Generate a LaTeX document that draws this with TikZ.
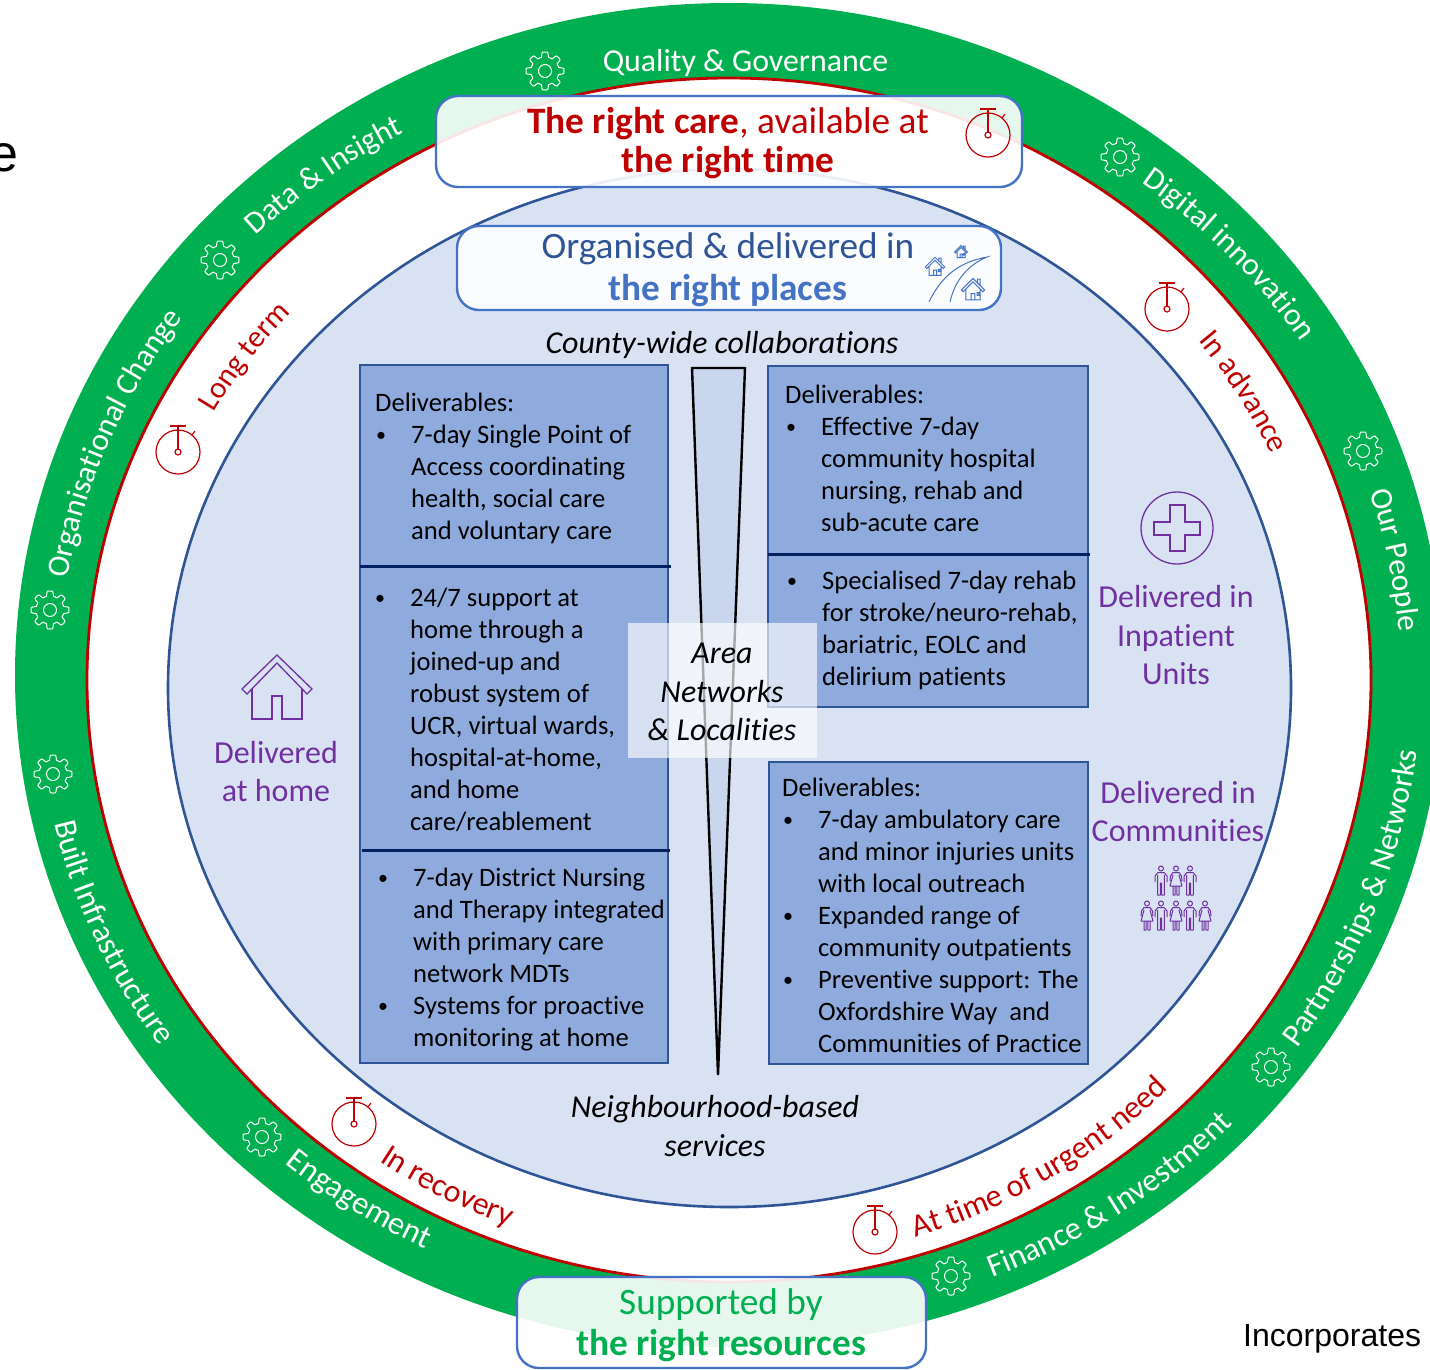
\documentclass[tikz,border=0pt]{standalone}
\usepackage{fontspec}
\setmainfont[Ligatures=NoCommon]{Carlito}
\newfontfamily\arialf{Liberation Sans}
\usetikzlibrary{decorations.text}
\definecolor{ringgreen}{HTML}{00B050}
\definecolor{ringred}{HTML}{C00000}
\definecolor{discfill}{HTML}{D9E2F3}
\definecolor{discline}{HTML}{2F5597}
\definecolor{boxfill}{HTML}{8FAADC}
\definecolor{capline}{HTML}{4472C4}
\definecolor{divline}{HTML}{002060}
\definecolor{purp}{HTML}{7030A0}
\definecolor{funnelfill}{HTML}{C9D6EE}
\newcommand{\fs}[2]{\fontsize{#1}{#2}\selectfont}
\newcommand{\bu}{\makebox[36pt][l]{\hspace{1pt}\raisebox{1.5pt}{\fs{20}{20}•}}}
\newcommand{\ind}{\hspace*{36pt}}
\newcommand{\arclabel}[6]{%
  \path[decorate,decoration={text along path,text align=center,
    text={|\fs{#6}{#6}\color{#5}|#4}}]
    plot[domain=#1-35:#1+35,samples=70] ({729+#2*cos(\x)},{680+#3*sin(\x)});}
\newcommand{\arclabelrev}[6]{%
  \path[decorate,decoration={text along path,text align=center,
    text={|\fs{#6}{#6}\color{#5}|#4}}]
    plot[domain=#1+35:#1-35,samples=70] ({729+#2*cos(\x)},{680+#3*sin(\x)});}
\tikzset{
  x=1pt,y=-1pt,
  capbox/.style={draw=capline,line width=2.4pt,fill=white,fill opacity=.9,rounded corners=22pt},
  dbox/.style={draw=discline,line width=2.8pt,fill=boxfill},
  divider/.style={draw=divline,line width=3pt},
  body/.style={anchor=north west,inner sep=0pt,align=left,font=\fs{26.6}{32},text=black},
  ital/.style={inner sep=0pt,align=center,font=\fs{31.9}{38.7}\itshape,text=black},
  purplabel/.style={inner sep=0pt,align=center,font=\fs{32}{38.5},text=purp},
  icon/.style={draw=purp,line width=1.3pt,line join=miter},
  watch/.style={draw=ringred,line width=1.2pt},
  ringtext/.style={font=\fs{31.9}{32},text=white,inner sep=0pt},
  gear/.pic={
    \draw[white,line width=1pt,line join=round] plot[domain=0:360,samples=145,smooth]
      ({(16.5+2.5*max(-1,min(1,2.5*cos(8*\x))))*cos(\x)},{(16.5+2.5*max(-1,min(1,2.5*cos(8*\x))))*sin(\x)}) -- cycle;
    \draw[white,line width=1pt] (0,0) circle[radius=6.5];
  },
  stopwatch/.pic={
    \draw[watch] (0,0) circle[radius=22];
    \draw[watch] (-8,-26) -- (8,-26);
    \draw[watch] (0,-26) -- (0,-3);
    \draw[watch] (0,0) circle[radius=3];
    \draw[watch] (14,-17) -- (17,-21);
  },
  cottage/.pic={
    \draw[draw=capline,line width=1pt,line join=miter]
      (-13,0) -- (0,-13) -- (13,0) -- (11,2) -- (0,-9) -- (-11,2) -- cycle
      (-8,-1) -- (-8,11) -- (8,11) -- (8,-1)
      (-2,11) -- (-2,4) -- (2,4) -- (2,11)
      (4.5,3) rectangle (6.5,6)
      (5,-8) -- (5,-12) -- (8,-12) -- (8,-5);
  },
  man/.pic={
    \draw[draw=purp,line width=1pt] (0,2.5) circle[radius=2.5];
    \draw[draw=purp,line width=1pt,line join=round]
      (-6,16) -- (-6,10) -- (-3,6.5) -- (3,6.5) -- (6,10) -- (6,16)
      (-3.4,9) -- (-3.4,16) (3.4,9) -- (3.4,16)
      (-3.4,16) -- (-3.4,29) -- (-.7,29) -- (-.7,17) -- (.7,17) -- (.7,29) -- (3.4,29) -- (3.4,16);
  },
  woman/.pic={
    \draw[draw=purp,line width=1pt] (0,2.5) circle[radius=2.5];
    \draw[draw=purp,line width=1pt,line join=round]
      (-6,15) -- (-5.5,10) -- (-3,6.5) -- (3,6.5) -- (5.5,10) -- (6,15)
      (-3,9) -- (-6,20) -- (6,20) -- (3,9)
      (-3,20) -- (-3,29) -- (-.8,29) -- (-.8,20)
      (3,20) -- (3,29) -- (.8,29) -- (.8,20);
  }
}
\begin{document}
\begin{tikzpicture}
\clip (0,0) rectangle (1430,1369);
\fill[white] (0,0) rectangle (1430,1369);
% rings
\fill[ringgreen] (729,675) circle[x radius=714,y radius=672];
\draw[draw=ringred,line width=2.8pt,fill=white] (729,680) circle[x radius=642,y radius=602];
\draw[draw=discline,line width=2.6pt,fill=discfill] (729.5,688) circle[x radius=561.5,y radius=519];
% stray text
\node[anchor=base west,inner sep=0pt,font=\arialf\fs{52}{52}] (stray) at (-11,171.5) {e};
\node[anchor=base west,inner sep=0pt,font=\arialf\fs{32}{32}] (incorp) at (1243,1346) {Incorporates};
% ring labels
\node[ringtext,anchor=base] (quality) at (745.5,71) {Quality \& Governance};
\arclabel{-42}{680}{625}{Digital innovation}{white}{31.6}
\arclabel{-127.4}{673}{625}{Data {\&} Insight}{white}{31.4}
\arclabel{-158}{670}{625}{Organisational Change}{white}{31.4}
\arclabel{-10.7}{672}{625}{Our People}{white}{31.4}
\arclabelrev{20.2}{692}{645}{Partnerships {\&} Networks}{white}{31.9}
\arclabelrev{55}{694}{646}{Finance {\&} Investment}{white}{32.4}
\arclabelrev{124}{685}{635}{Engagement}{white}{32.4}
\arclabelrev{156.7}{692}{645}{Built Infrastructure}{white}{32.2}
% time labels
\arclabel{-145}{590}{548}{Long term}{ringred}{30.5}
\arclabel{-30.3}{593}{555}{In advance}{ringred}{31}
\arclabelrev{58}{615}{585}{At time of urgent need}{ringred}{32}
\arclabelrev{118.2}{615}{585}{In recovery}{ringred}{32}
% gears
\foreach \n/\gx/\gy in {1/545/71,2/1120/157,3/1363/451,4/1271/1067,5/951/1276,6/262/1137,7/53/774,8/50/610,9/220/260}
  \pic (gear\n) at (\gx,\gy) {gear};
% stopwatches
\foreach \n/\wx/\wy in {2/1167/309,3/178/452,4/354/1124,5/875/1232}
  \pic (watch\n) at (\wx,\wy) {stopwatch};
% delivery boxes
\draw[dbox] (360,365) rectangle (668,1063);
\draw[divider] (360,566) -- (671,566);
\draw[divider] (362,850) -- (670,850);
\draw[dbox] (768,366) rectangle (1088,707);
\draw[divider] (768,554) -- (1090,554);
\draw[dbox] (769,762) rectangle (1088,1064);
% funnel
\draw[draw=black,line width=2.4pt,fill=funnelfill,line join=miter] (692,368) -- (745,368) -- (718,1075) -- cycle;
% box texts
\node[body] (b1) at (375,{411-22.4}) {\strut Deliverables:\\\bu 7-day Single Point of\\\ind Access coordinating\\\ind health, social care\\\ind and voluntary care};
\node[body] (b2) at (374,{606-22.4}) {\strut\bu 24/7 support at\\\ind home through a\\\ind joined-up and\\\ind robust system of\\\ind UCR, virtual wards,\\\ind hospital-at-home,\\\ind and home\\\ind care/reablement};
\node[body] (b3) at (377,{886-22.4}) {\strut\bu 7-day District Nursing\\\ind and Therapy integrated\\\ind with primary care\\\ind network MDTs\\\bu Systems for proactive\\\ind monitoring at home};
\node[body] (b4) at (785,{403-22.4}) {\strut Deliverables:\\\bu Effective 7-day\\\ind community hospital\\\ind nursing, rehab and\\\ind sub-acute care};
\node[body] (b5) at (786,{589-22.4}) {\strut\bu Specialised 7-day rehab\\\ind for stroke/neuro-rehab,\\\ind bariatric, EOLC and\\\ind delirium patients};
\node[body] (b6) at (782,{796-22.4}) {\strut Deliverables:\\\bu 7-day ambulatory care\\\ind and minor injuries units\\\ind with local outreach\\\bu Expanded range of\\\ind community outpatients\\\bu Preventive support: The\\\ind Oxfordshire Way~ and\\\ind Communities of Practice};
% overlay
\fill[white,opacity=.65] (628,623) rectangle (817,758);
\node[ital] (area) at (722,692) {Area\\Networks\\\& Localities};
\node[ital] (county) at (722,345) {County-wide collaborations};
\node[ital] (neigh) at (715,1126) {Neighbourhood-based\\services};
% purple labels
\node[purplabel] (home) at (276,771.5) {Delivered\\at home};
\node[purplabel] (inpat) at (1176,635) {Delivered in\\Inpatient\\Units};
\node[purplabel] (comm) at (1178,811.5) {Delivered in\\Communities};
% home icon
\draw[icon] (277,655) -- (312,689) -- (307,694) -- (277,663) -- (247,694) -- (242,689) -- cycle;
\draw[icon] (252,689) -- (252,719) -- (272,719) -- (272,696) -- (282,696) -- (282,719) -- (302,719) -- (302,689);
% hospital icon
\draw[icon] (1177,528) circle[radius=36];
\draw[icon] (1170,505) -- (1185,505) -- (1185,522) -- (1200,522) -- (1200,535) -- (1185,535) -- (1185,551) -- (1170,551) -- (1170,535) -- (1154,535) -- (1154,522) -- (1170,522) -- cycle;
% people
\pic at (1161,866) {man}; \pic at (1176,866) {woman}; \pic at (1190,866) {man};
\pic at (1147,901) {woman}; \pic at (1161,901) {man}; \pic at (1176,901) {woman}; \pic at (1190,901) {man}; \pic at (1205,901) {woman};
% caption boxes
\draw[capbox] (436,96) rectangle (1022,187);
\node[inner sep=0pt,align=center,font=\fs{37.3}{39.5},text=ringred] (care) at (728,143) {\textbf{The right care}, available at\\\textbf{the right time}};
\pic (watch1) at (988,135) {stopwatch};
\draw[capbox] (457,226) rectangle (1001,310);
\node[inner sep=0pt,align=center,font=\fs{37.3}{42},text=discline] (places) at (728,269.5) {Organised \& delivered in\\\textcolor{capline}{\textbf{the right places}}};
\draw[draw=capline,line width=1pt] (929,302) .. controls (942,275) and (960,262) .. (987,257) .. controls (968,265) and (955,280) .. (950,302);
\pic[scale=.75] at (935,267) {cottage};
\pic[scale=.5] at (961,252) {cottage};
\pic[scale=.9] at (973,290) {cottage};
\draw[capbox] (517,1277) rectangle (926,1368);
\node[inner sep=0pt,align=center,font=\fs{37.3}{41},text=ringgreen] (res) at (721,1325) {Supported by\\\textbf{the right resources}};
\end{tikzpicture}
\end{document}
